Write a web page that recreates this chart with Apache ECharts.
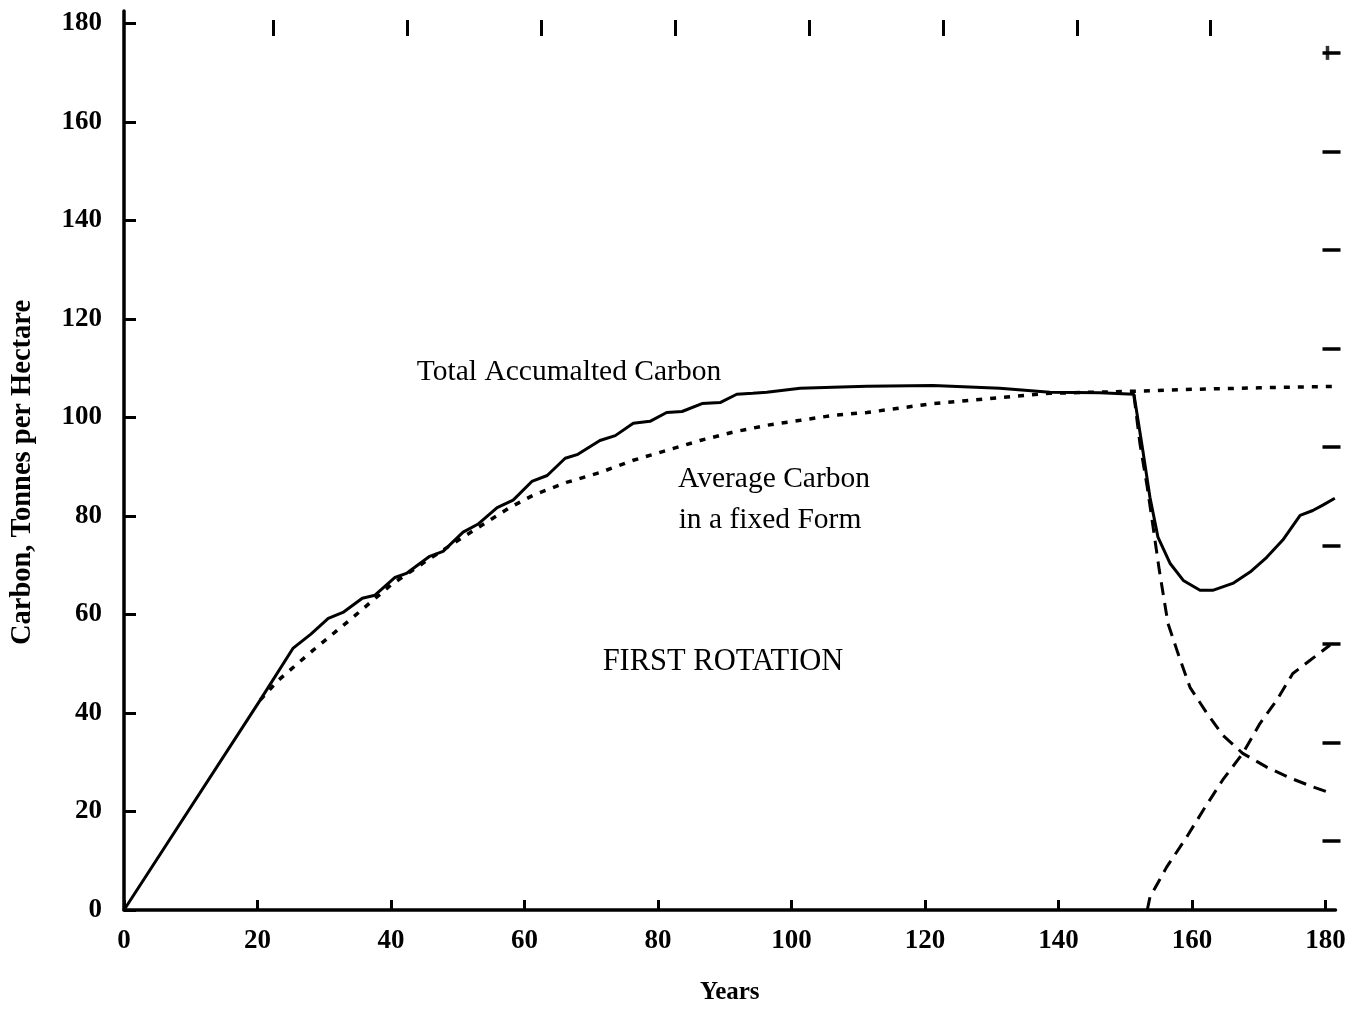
<!DOCTYPE html>
<html>
<head>
<meta charset="utf-8">
<script src="https://cdn.jsdelivr.net/npm/echarts@6/dist/echarts.min.js"></script>
<style>html,body{margin:0;padding:0;background:#fff}#c{width:1362px;height:1010px}</style>
</head>
<body>
<div id="c"></div>
<script>
// ---- data ----
var xTickValues = [0, 20, 40, 60, 80, 100, 120, 140, 160, 180];
var yTickValues = [0, 20, 40, 60, 80, 100, 120, 140, 160, 180];
var topTickValues = [22.3, 42.4, 62.5, 82.6, 102.6, 122.7, 142.8, 162.8];
var rightTickValues = [14, 34, 54, 74, 94, 114, 134, 154, 174];
var plusMark = [[180.3, 174]];

var totalCarbon = [[0,0],[20.4,42.6],[25.3,53.1],[28,56],[30.6,59.2],[32.8,60.4],[35.7,63.3],[37.6,63.9],[40.6,67.5],[42.4,68.4],[45.8,71.8],[47.8,72.8],[50.8,76.7],[53,78.3],[55.9,81.7],[58.3,83.2],[61.1,87],[63.4,88.2],[66.1,91.7],[68,92.5],[71.3,95.3],[73.6,96.3],[76.3,98.8],[78.8,99.2],[81.3,101],[83.6,101.2],[86.6,102.8],[89.3,103],[91.8,104.7],[94.2,104.9],[96.3,105.1],[101.3,105.9],[106.2,106.1],[111.3,106.3],[121.2,106.5],[131.2,105.9],[138.7,105.1],[146.2,105],[151.3,104.7],[152.7,92.7],[153.7,83.8],[154.9,75.7],[156.7,70.4],[158.7,66.9],[161.2,64.9],[163.1,64.9],[166.1,66.3],[168.7,68.6],[171.2,71.6],[173.6,75.1],[176.2,80.1],[178.1,81.1],[179.6,82.2],[181.4,83.6]];

var averageCarbon = [[20.4,42.6],[23,46.5],[28.3,52.7],[34.3,59.4],[40,66],[46,71.5],[52.3,77],[57.8,81.7],[61.3,84.2],[66.3,86.8],[71.3,88.8],[76.3,91.3],[81.3,93.3],[86.3,95.3],[91.2,97],[96.3,98.4],[101.3,99.4],[106.2,100.4],[111.3,101],[121.2,102.8],[131.2,104],[138.7,104.9],[151.2,105.3],[160,105.7],[170,106],[181.1,106.3]];

var decayCarbon = [[151.3,104.5],[152.2,94.7],[153.3,85.8],[154.2,77.5],[155.1,69],[156.4,58.2],[157.9,52.1],[159.7,45.2],[162.2,40],[164.6,35.5],[167.6,31.8],[171.2,29],[174.7,26.8],[178.1,25],[180.4,23.9]];

var secondRotation = [[153.3,0],[153.7,2.6],[156.2,8.7],[159.2,14.8],[161.7,20.3],[164.6,26.4],[167.6,31.8],[170.2,37.9],[172.7,42.6],[175.1,48],[177.7,50.7],[180.7,53.8]];

var font = 'Liberation Serif';
var chart = echarts.init(document.getElementById('c'));
chart.setOption({
  backgroundColor: '#fff',
  animation: false,
  grid: { left: 124, right: 26.5, top: 11, bottom: 100 },
  xAxis: [{
    type: 'value', min: 0, max: 181.5,
    name: 'Years', nameLocation: 'middle', nameGap: 70,
    nameTextStyle: { fontFamily: font, fontWeight: 'bold', fontSize: 25, color: '#000' },
    axisLine: { onZero: false, lineStyle: { color: '#000', width: 3.5 } },
    axisTick: { customValues: xTickValues, inside: true, length: 10, lineStyle: { color: '#000', width: 3 } },
    axisLabel: { customValues: xTickValues, margin: 18, fontFamily: font, fontWeight: 'bold', fontSize: 27, color: '#000' },
    splitLine: { show: false }
  }, {
    type: 'value', min: 0, max: 181.5, position: 'top', offset: -9,
    axisLine: { show: false, onZero: false },
    axisTick: { show: true, customValues: topTickValues, inside: true, length: 16, lineStyle: { color: '#000', width: 3 } },
    axisLabel: { show: false },
    splitLine: { show: false }
  }],
  yAxis: [{
    type: 'value', min: 0, max: 182.5,
    name: 'Carbon, Tonnes per Hectare', nameLocation: 'middle', nameGap: 87,
    nameTextStyle: { fontFamily: font, fontWeight: 'bold', fontSize: 28.5, color: '#000', padding: [0, 24, 0, 0] },
    axisLine: { onZero: false, lineStyle: { color: '#000', width: 3.5 } },
    axisTick: { customValues: yTickValues, inside: true, length: 12, lineStyle: { color: '#000', width: 3 } },
    axisLabel: { customValues: yTickValues, margin: 22, fontFamily: font, fontWeight: 'bold', fontSize: 27, color: '#000' },
    splitLine: { show: false }
  }, {
    type: 'value', min: 0, max: 182.5, position: 'right', offset: 5,
    axisLine: { show: false, onZero: false },
    axisTick: { show: true, customValues: rightTickValues, inside: true, length: 18, lineStyle: { color: '#000', width: 3.5 } },
    axisLabel: { show: false },
    splitLine: { show: false }
  }],
  series: [{
    name: 'Total Accumalted Carbon', type: 'line', data: totalCarbon, showSymbol: false, smooth: false,
    lineStyle: { color: '#000', width: 3 }, z: 3
  }, {
    name: 'Average Carbon in a fixed Form', type: 'line', data: averageCarbon, showSymbol: false,
    lineStyle: { color: '#000', width: 3.5, type: [6, 8] }, z: 2
  }, {
    name: 'Decay', type: 'line', data: decayCarbon, showSymbol: false,
    lineStyle: { color: '#000', width: 3, type: [13, 8] }, z: 2
  }, {
    name: 'Second rotation', type: 'line', data: secondRotation, showSymbol: false,
    lineStyle: { color: '#000', width: 3, type: [13, 8] }, z: 2
  }, {
    name: 'plus', type: 'scatter', data: plusMark, symbol: 'rect', symbolSize: [3.5, 14],
    itemStyle: { color: '#000' }, silent: true
  }],
  graphic: [
    { type: 'text', x: 569, y: 372, style: { text: 'Total Accumalted Carbon', fontFamily: font, fontSize: 29.5, fill: '#000', align: 'center', verticalAlign: 'middle' } },
    { type: 'text', x: 774, y: 479, style: { text: 'Average Carbon', fontFamily: font, fontSize: 29.5, fill: '#000', align: 'center', verticalAlign: 'middle' } },
    { type: 'text', x: 770, y: 520, style: { text: 'in a fixed Form', fontFamily: font, fontSize: 29.5, fill: '#000', align: 'center', verticalAlign: 'middle' } },
    { type: 'text', x: 723, y: 662, style: { text: 'FIRST ROTATION', fontFamily: font, fontSize: 30.5, fill: '#000', align: 'center', verticalAlign: 'middle' } }
  ]
});
</script>
</body>
</html>
